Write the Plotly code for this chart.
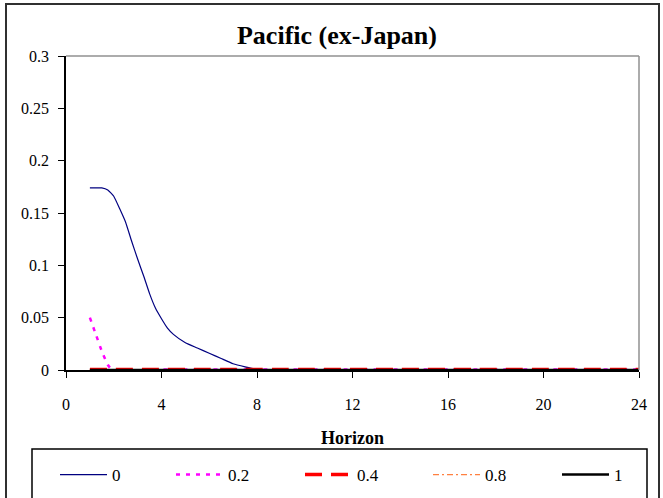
import plotly.graph_objects as go

horizon = [1, 1.25, 1.5, 1.75, 2, 2.25, 2.5, 2.75, 3, 3.25, 3.5, 3.75, 4, 4.25, 4.5,
           5, 5.5, 6, 6.5, 7, 7.5, 8,
           9, 10, 11, 12, 13, 14, 15, 16, 17, 18, 19, 20, 21, 22, 23, 24]

s0 = [0.174, 0.174, 0.174, 0.172, 0.166, 0.154, 0.141, 0.123, 0.106, 0.090, 0.073,
      0.059, 0.049, 0.040, 0.034,
      0.026, 0.021, 0.016, 0.011, 0.006, 0.003, 0.0005,
      -0.0005, 0.0, 0.0, 0.0, 0.0, 0.0, 0.0, 0.0, 0.0, 0.0, 0.0, 0.0, 0.0, 0.0, 0.0, 0.0]
s02 = [0.050, 0.034, 0.018, 0.005, -0.002, -0.003, -0.003, -0.002, -0.001, 0.0, 0.0,
       0.0005, 0.0005, 0.0005, 0.0005,
       0.0005, 0.0005, 0.0005, 0.0005, 0.0005, 0.0005, 0.0005,
       0.0005, 0.0005, 0.0005, 0.0005, 0.0005, 0.0005, 0.0005, 0.0005, 0.0005, 0.0005,
       0.0005, 0.0005, 0.0005, 0.0005, 0.0005, 0.0005]
s04 = [0.0004, 0.0004, 0.0004, 0.0004, 0.0004, 0.0004, 0.0004, 0.0004, 0.0004, 0.0004,
       0.0004, 0.0004, 0.0004, 0.0004, 0.0004,
       0.0004, 0.0004, 0.0004, 0.0004, 0.0004, 0.0004, 0.0004,
       0.0004, 0.0004, 0.0004, 0.0004, 0.0004, 0.0004, 0.0004, 0.0004, 0.0004, 0.0004,
       0.0004, 0.0004, 0.0004, 0.0004, 0.0004, 0.0004]
s08 = [0.0003, 0.0003, 0.0003, 0.0003, 0.0003, 0.0003, 0.0003, 0.0003, 0.0003, 0.0003,
       0.0003, 0.0003, 0.0003, 0.0003, 0.0003,
       0.0003, 0.0003, 0.0003, 0.0003, 0.0003, 0.0003, 0.0003,
       0.0003, 0.0003, 0.0003, 0.0003, 0.0003, 0.0003, 0.0003, 0.0003, 0.0003, 0.0003,
       0.0003, 0.0003, 0.0003, 0.0003, 0.0003, 0.0003]
s1 = [0.0, 0.0, 0.0, 0.0, 0.0, 0.0, 0.0, 0.0, 0.0, 0.0,
      0.0, 0.0, 0.0, 0.0, 0.0,
      0.0, 0.0, 0.0, 0.0, 0.0, 0.0, 0.0,
      0.0, 0.0, 0.0, 0.0, 0.0, 0.0, 0.0, 0.0, 0.0, 0.0,
      0.0, 0.0, 0.0, 0.0, 0.0, 0.0]

series_names = ["0", "0.2", "0.4", "0.8", "1"]
x_ticks = [0, 4, 8, 12, 16, 20, 24]
y_ticks = [0, 0.05, 0.1, 0.15, 0.2, 0.25, 0.3]
y_tick_labels = ["0", "0.05", "0.1", "0.15", "0.2", "0.25", "0.3"]

FONT = "Liberation Serif, Times New Roman, DejaVu Serif, serif"

styles = [
    dict(color="#000080", width=1.2, dash="solid"),
    dict(color="#FF00FF", width=2.5, dash="4px,6px"),
    dict(color="#FF0000", width=3.5, dash="17px,9px"),
    dict(color="#FF8040", width=1.2, dash="6px,3px,2px,3px"),
    dict(color="#000000", width=2.5, dash="solid"),
]
legend_ids = ["legend", "legend2", "legend3", "legend4", "legend5"]
legend_px = [55, 171, 300, 428, 557]

fig = go.Figure()
for name, ys, st, lg in zip(series_names, [s0, s02, s04, s08, s1], styles, legend_ids):
    fig.add_trace(go.Scatter(x=horizon, y=ys, mode="lines", name=name,
                             line=dict(shape="spline", smoothing=0.4, **st),
                             hoverinfo="skip", legend=lg))

W, H = 663, 498
L, R, T, B = 66, 24, 56, 128
pw, ph = W - L - R, H - T - B

def px_x(p):
    return (p - L) / pw

def px_y(p):
    return (H - B - p) / ph

legend_common = dict(orientation="h", xanchor="left", yanchor="top", yref="paper",
                     y=px_y(457), font=dict(size=17, family=FONT), itemwidth=47,
                     bgcolor="rgba(0,0,0,0)", borderwidth=0)

legends = {lg: dict(x=px_x(p), **legend_common) for lg, p in zip(legend_ids, legend_px)}

fig.update_layout(
    width=W, height=H,
    margin=dict(l=L, r=R, t=T, b=B, autoexpand=False),
    paper_bgcolor="white", plot_bgcolor="white",
    font=dict(family=FONT, size=16, color="black"),
    title=dict(text="<b>Pacific (ex-Japan)</b>", font=dict(size=26, family=FONT),
               x=px_x(337), xref="paper", xanchor="center",
               y=1 - 35 / H, yref="container", yanchor="middle"),
    xaxis=dict(range=[0, 24], tickvals=x_ticks, ticktext=[str(v) for v in x_ticks],
               showgrid=False, zeroline=False, showline=True, linecolor="black",
               linewidth=1.5, ticks="outside", ticklen=6, tickcolor="black",
               tickfont=dict(size=16, family=FONT), ticklabelstandoff=13,
               title=dict(text="<b>Horizon</b>", font=dict(size=18, family=FONT), standoff=19)),
    yaxis=dict(range=[0, 0.3], tickvals=y_ticks, ticktext=y_tick_labels,
               showgrid=False, zeroline=False, showline=True, linecolor="black",
               linewidth=1.5, ticks="outside", ticklen=6, tickcolor="black",
               tickfont=dict(size=16, family=FONT), ticklabelstandoff=6),
    showlegend=True,
    shapes=[
        dict(type="line", xref="paper", yref="paper", x0=0, x1=1, y0=1, y1=1,
             line=dict(color="#909090", width=1.5)),
        dict(type="line", xref="paper", yref="paper", x0=1, x1=1, y0=0, y1=1,
             line=dict(color="#909090", width=1.5)),
        dict(type="rect", xref="paper", yref="paper",
             x0=px_x(32), x1=px_x(647), y0=px_y(520), y1=px_y(449),
             line=dict(color="black", width=1.5), layer="below"),
        dict(type="rect", xref="paper", yref="paper",
             x0=px_x(6), x1=px_x(659), y0=px_y(520), y1=px_y(4),
             line=dict(color="#303030", width=2), layer="below"),
    ],
)
fig.update_layout(**legends)

fig.write_html("out.html")
